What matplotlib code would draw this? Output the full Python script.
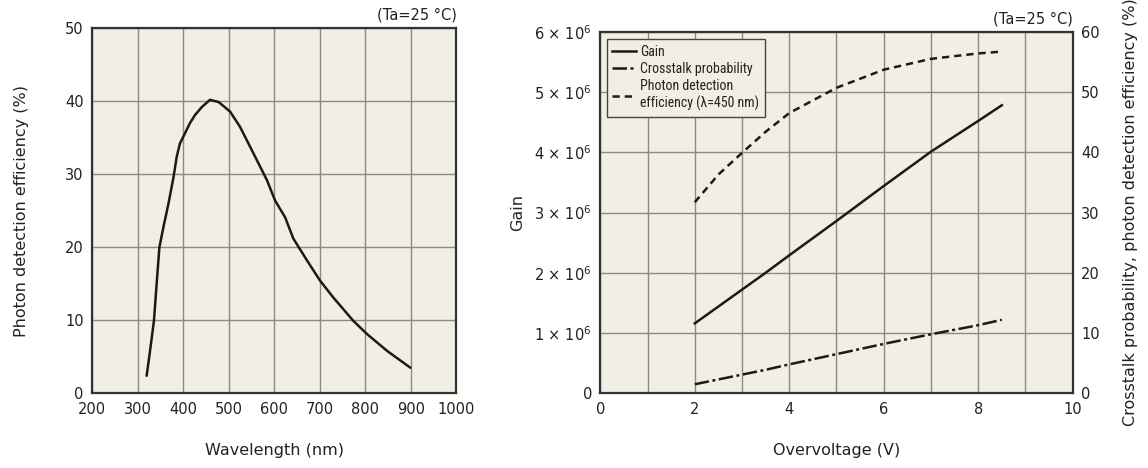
import matplotlib.pyplot as plt
from matplotlib import font_manager
from matplotlib.ticker import MultipleLocator, FuncFormatter
from matplotlib.lines import Line2D

# Spectral response (Ta=25 degC)
wavelength_nm = [320, 324, 330, 336, 342, 348, 357, 368, 379, 386, 393, 404,
                 415, 426, 441, 459, 478, 503, 525, 555, 584, 602, 624, 642,
                 672, 701, 730, 774, 804, 848, 899]
pde_spectral = [2.4, 4.2, 7.0, 9.9, 15.0, 20.0, 22.8, 26.0, 29.6, 32.4, 34.2,
                35.6, 37.0, 38.1, 39.2, 40.2, 39.9, 38.6, 36.5, 32.8, 29.2,
                26.4, 24.1, 21.2, 18.2, 15.4, 13.1, 9.9, 8.1, 5.8, 3.5]

# Gain, crosstalk and PDE versus overvoltage
overvoltage = [2.0, 2.5, 3.0, 3.5, 4.0, 5.0, 6.0, 7.0, 8.0, 8.5]
gain = [1.16e6, 1.44e6, 1.72e6, 2.00e6, 2.29e6, 2.86e6, 3.44e6, 4.01e6,
        4.52e6, 4.78e6]
crosstalk_pct = [1.5, 2.3, 3.1, 3.9, 4.8, 6.5, 8.2, 9.8, 11.3, 12.2]
pde_450_pct = [31.7, 36.3, 39.9, 43.4, 46.5, 50.7, 53.7, 55.5, 56.4, 56.7]

BG = "#f1eee4"
GRID = "#8c8a84"
FRAME = "#333333"
INK = "#1a1a1a"
LW = 1.8
DASHDOT = (5.8, 1.4, 1.2, 1.4)
DASHED = (2.9, 2.0)

plt.rcParams["font.family"] = ["DejaVu Sans"]
plt.rcParams["text.color"] = "#222222"
plt.rcParams["axes.labelcolor"] = "#222222"


def narrow_font(size):
    # look for a condensed sans face for the legend
    wanted = ["Liberation Sans Narrow", "Arial Narrow", "Roboto Condensed",
              "Open Sans Condensed", "Noto Sans Condensed",
              "DejaVu Sans Condensed"]
    entries = font_manager.fontManager.ttflist
    for name in wanted:
        for e in entries:
            if e.name == name and e.style == "normal" and e.weight in (400, "normal"):
                return font_manager.FontProperties(fname=e.fname, size=size)
    for e in entries:
        fn = e.fname.lower()
        if ("condensed" in fn or "narrow" in fn) and "bold" not in fn \
                and "oblique" not in fn and "italic" not in fn \
                and "mono" not in fn and "serif" not in fn \
                and "light" not in fn and "semi" not in fn:
            return font_manager.FontProperties(fname=e.fname, size=size)
    return font_manager.FontProperties(family="Liberation Sans", size=size - 1.5)


fig = plt.figure(figsize=(11.48, 4.68), dpi=100)


def style_axes(ax):
    ax.set_facecolor(BG)
    for s in ax.spines.values():
        s.set_linewidth(1.6)
        s.set_color(FRAME)
    ax.grid(True, which="both", color=GRID, linewidth=1.0)
    ax.set_axisbelow(True)
    ax.tick_params(which="both", length=0, labelsize=10.5, colors="#222222")
    ax.tick_params(axis="x", pad=6)
    ax.tick_params(axis="y", pad=6)


# ---- left: spectral response ----
ax1 = fig.add_axes([0.0801, 0.1596, 0.3175, 0.780])
style_axes(ax1)
ax1.plot(wavelength_nm, pde_spectral, color=INK, linewidth=LW,
         solid_joinstyle="round", solid_capstyle="round")
ax1.set_xlim(200, 1000)
ax1.set_ylim(0, 50)
ax1.xaxis.set_major_locator(MultipleLocator(100))
ax1.yaxis.set_major_locator(MultipleLocator(10))
ax1.set_xlabel("Wavelength (nm)", fontsize=11.5, labelpad=19)
ax1.set_ylabel("Photon detection efficiency (%)", fontsize=11.5, labelpad=26)
ax1.text(1.0, 1.015, "(Ta=25 °C)", transform=ax1.transAxes, ha="right",
         va="bottom", fontsize=10.5)

# ---- right: gain / crosstalk / PDE vs overvoltage ----
ax2 = fig.add_axes([0.5229, 0.1596, 0.4115, 0.7726])
style_axes(ax2)
ax2.set_xlim(0, 10)
ax2.set_ylim(0, 6e6)
ax2.xaxis.set_major_locator(MultipleLocator(2))
ax2.xaxis.set_minor_locator(MultipleLocator(1))
ax2.yaxis.set_major_locator(MultipleLocator(1e6))


def gain_fmt(v, pos):
    n = int(round(v / 1e6))
    return "0" if n == 0 else f"{n} × 10$^{{6}}$"


ax2.yaxis.set_major_formatter(FuncFormatter(gain_fmt))
ax2.plot(overvoltage, gain, color=INK, linewidth=LW)
ax2.set_xlabel("Overvoltage (V)", fontsize=11.5, labelpad=19)
ax2.set_ylabel("Gain", fontsize=11.5, labelpad=7)

ax3 = ax2.twinx()
ax3.set_ylim(0, 60)
ax3.yaxis.set_major_locator(MultipleLocator(10))
ax3.tick_params(length=0, labelsize=10.5, pad=6, colors="#222222")
for s in ax3.spines.values():
    s.set_visible(False)
ax3.plot(overvoltage, crosstalk_pct, color=INK, linewidth=LW, dashes=DASHDOT)
ax3.plot(overvoltage, pde_450_pct, color=INK, linewidth=LW, dashes=DASHED)
ax3.set_ylabel("Crosstalk probability, photon detection efficiency (%)",
               fontsize=11.5, labelpad=17)
ax2.text(1.0, 1.015, "(Ta=25 °C)", transform=ax2.transAxes, ha="right",
         va="bottom", fontsize=10.5)

handles = [
    Line2D([0], [0], color=INK, linewidth=LW),
    Line2D([0], [0], color=INK, linewidth=LW, dashes=DASHDOT),
    Line2D([0], [0], color=INK, linewidth=LW, dashes=DASHED),
]
labels = ["Gain", "Crosstalk probability",
          "Photon detection\nefficiency (λ=450 nm)"]
leg = ax3.legend(handles, labels, loc="upper left",
                 bbox_to_anchor=(0.014, 0.98), frameon=True, fancybox=False,
                 handlelength=1.7, handletextpad=0.3, labelspacing=0.25,
                 borderpad=0.4, borderaxespad=0, prop=narrow_font(10))
leg.get_frame().set_facecolor(BG)
leg.get_frame().set_edgecolor("#444444")
leg.get_frame().set_linewidth(1.0)
leg.get_frame().set_alpha(1.0)

fig.savefig("out.png", dpi=100)
